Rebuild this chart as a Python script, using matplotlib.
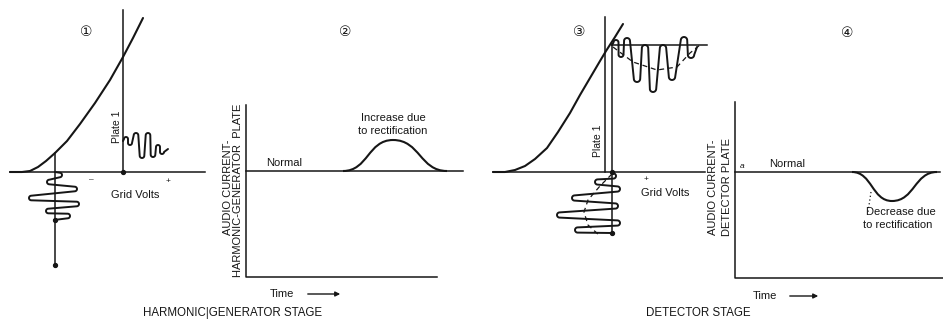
import matplotlib
matplotlib.use("Agg")
import numpy as np
import matplotlib.pyplot as plt
from matplotlib.path import Path
from matplotlib.patches import PathPatch

# ---------------- data (diagram units = reference pixels, y downward) ----------------
# Panel 1: harmonic-generator tube characteristic
p1_curve_x = [10, 22, 30, 38, 46, 55, 67, 80, 95, 110, 123, 133, 143]
p1_curve_y = [172, 172, 171, 167, 161, 153, 141, 124, 103, 80, 57, 38, 18]
# grid signal: start, turning points, end
p1_grid_x = [55, 62, 47, 77, 29, 79, 46, 70, 54]
p1_grid_y = [172, 175, 182, 189, 198, 204, 211, 216, 220]
# plate current wave: start, turning points, end
p1_plate_x = [123, 126, 130, 136, 142, 148, 153, 158, 162, 168]
p1_plate_y = [141, 137, 145, 133, 158, 133, 157, 145, 154, 149]

# Panel 2: audio current in harmonic-generator plate (start, peak, end)
p2_bump_x = [343, 393, 447]
p2_bump_y = [171, 140, 171]

# Panel 3: detector tube characteristic
p3_curve_x = [493, 505, 515, 525, 535, 547, 558, 570, 580, 590, 600, 606, 615, 623]
p3_curve_y = [172, 172, 170, 166, 159, 148, 132, 113, 95, 78, 61, 51, 37, 24]
p3_grid_x = [612, 616, 595, 620, 572, 618, 557, 620, 575, 612]
p3_grid_y = [173, 176, 182, 189, 198, 206, 215, 223, 230, 233]
p3_grid_env_x = [612, 600, 588, 584, 588, 600]
p3_grid_env_y = [174, 186, 200, 212, 225, 236]
p3_plate_x = [612, 616, 621, 627, 637, 645, 653, 663, 672, 684, 691, 697]
p3_plate_y = [45, 40, 57, 38, 82, 45, 92, 45, 80, 37, 58, 47]
p3_plate_env_x = [613, 633, 657, 677, 690, 700]
p3_plate_env_y = [47, 62, 70, 67, 53, 45]

# Panel 4: audio current in detector plate (start, minimum, end)
p4_dip_x = [852, 892, 937]
p4_dip_y = [172, 201, 172]

panel_numbers = ["\u2460", "\u2461", "\u2462", "\u2463"]
stage_labels = ["HARMONIC|GENERATOR STAGE", "DETECTOR STAGE"]

INK = "#161616"
SANS = ["Liberation Sans", "DejaVu Sans"]
FS = 8

fig = plt.figure(figsize=(9.43, 3.23), dpi=100)
ax = fig.add_axes([0, 0, 1, 1])
ax.set_xlim(0, 943)
ax.set_ylim(323, 0)
ax.axis("off")


def bell_path(xs, ys, t=0.5):
    verts = [(xs[0], ys[0])]
    codes = [Path.MOVETO]
    for i in range(len(xs) - 1):
        x0, y0, x1, y1 = xs[i], ys[i], xs[i + 1], ys[i + 1]
        dx = x1 - x0
        verts += [(x0 + t * dx, y0), (x1 - t * dx, y1), (x1, y1)]
        codes += [Path.CURVE4] * 3
    return Path(verts, codes)


def hairpin(xs, ys, orient, r):
    """Oscillation drawn through turning points with round hairpin ends."""
    px, py = [xs[0]], [ys[0]]
    n = len(xs)
    for i in range(1, n - 1):
        xe, ye = xs[i], ys[i]
        if orient == "h":
            gp = abs(ys[i] - ys[i - 1]) / (2 if i > 1 else 1)
            gn = abs(ys[i + 1] - ys[i]) / (2 if i < n - 2 else 1)
            ri = max(1.0, min(r, gp, gn))
            if xe > (xs[i - 1] + xs[i + 1]) / 2:      # right turn
                cx, cy = xe - ri, ye
                a = np.radians(np.linspace(-90, 90, 13))
            else:                                       # left turn
                cx, cy = xe + ri, ye
                a = np.radians(np.linspace(-90, -270, 13))
        else:
            gp = abs(xs[i] - xs[i - 1]) / (2 if i > 1 else 1)
            gn = abs(xs[i + 1] - xs[i]) / (2 if i < n - 2 else 1)
            ri = max(1.0, min(r, gp, gn))
            if ye < (ys[i - 1] + ys[i + 1]) / 2:      # peak (upward)
                cx, cy = xe, ye + ri
                a = np.radians(np.linspace(180, 360, 13))
            else:                                       # trough
                cx, cy = xe, ye - ri
                a = np.radians(np.linspace(180, 0, 13))
        px += list(cx + ri * np.cos(a))
        py += list(cy + ri * np.sin(a))
    px.append(xs[-1])
    py.append(ys[-1])
    return px, py


def draw_hairpin(xs, ys, orient, r, lw=1.4):
    hx, hy = hairpin(xs, ys, orient, r)
    ax.plot(hx, hy, color=INK, lw=lw, solid_capstyle="round", solid_joinstyle="round")


LW_AX = 1.1
LW_C = 1.5

# ---------------- Panel 1 ----------------
ax.plot([10, 205], [172, 172], color=INK, lw=LW_AX)
ax.plot([123, 123], [10, 172], color=INK, lw=LW_AX)
ax.plot(p1_curve_x, p1_curve_y, color=INK, lw=LW_C, solid_capstyle="round")
ax.plot([55, 55], [153, 265], color=INK, lw=LW_AX)
draw_hairpin(p1_grid_x, p1_grid_y, "h", 2.3)
draw_hairpin(p1_plate_x, p1_plate_y, "v", 2.3)
ax.plot([123, 55, 55], [172, 220, 265], "o", color=INK, ms=2.8)
ax.text(91, 180, "\u2013", ha="center", va="center", fontsize=6, color=INK, family=SANS)
ax.text(168, 182, "+", ha="center", va="center", fontsize=6, color=INK, family=SANS)
ax.text(135, 195, "Grid Volts", ha="center", va="center", fontsize=FS, color=INK, family=SANS)
ax.text(117, 127, "Plate 1", ha="center", va="center", rotation=90, fontsize=7.5,
        color=INK, family=SANS)

# ---------------- Panel 2 ----------------
ax.plot([246, 246, 437], [105, 277, 277], color=INK, lw=LW_AX)
ax.plot([246, 463], [171, 171], color=INK, lw=LW_AX)
ax.add_patch(PathPatch(bell_path(p2_bump_x, p2_bump_y), fill=False, edgecolor=INK, lw=LW_C))
ax.text(266, 163, "Normal", ha="left", va="center", fontsize=FS, color=INK, family=SANS)
ax.text(393, 118, "Increase due", ha="center", va="center", fontsize=FS, color=INK, family=SANS)
ax.text(393, 131, "to rectification", ha="center", va="center", fontsize=FS, color=INK,
        family=SANS)
ax.text(228, 187, "AUDIO CURRENT-", ha="center", va="center", rotation=90, fontsize=FS,
        color=INK, family=SANS)
ax.text(238, 190, "HARMONIC-GENERATOR  PLATE", ha="center", va="center", rotation=90,
        fontsize=FS, color=INK, family=SANS)
ax.text(270, 294, "Time", ha="left", va="center", fontsize=FS, color=INK, family=SANS)
ax.annotate("", xy=(343, 294), xytext=(305, 294),
            arrowprops=dict(arrowstyle="-|>", color=INK, lw=1.0, mutation_scale=7))

# ---------------- Panel 3 ----------------
ax.plot([493, 705], [172, 172], color=INK, lw=LW_AX)
ax.plot([605, 605], [17, 172], color=INK, lw=LW_AX)
ax.plot(p3_curve_x, p3_curve_y, color=INK, lw=LW_C, solid_capstyle="round")
ax.plot([612, 612], [45, 233], color=INK, lw=LW_AX)
ax.plot([612, 707], [45, 45], color=INK, lw=LW_AX)
draw_hairpin(p3_grid_x, p3_grid_y, "h", 2.6)
draw_hairpin(p3_plate_x, p3_plate_y, "v", 3.2)
ax.plot(p3_grid_env_x, p3_grid_env_y, color=INK, lw=0.9, ls=(0, (4, 3)))
ax.plot(p3_plate_env_x, p3_plate_env_y, color=INK, lw=0.9, ls=(0, (4, 3)))
ax.plot([612, 612], [172, 233], "o", color=INK, ms=2.8)
ax.text(646, 180, "+", ha="center", va="center", fontsize=6, color=INK, family=SANS)
ax.text(665, 193, "Grid Volts", ha="center", va="center", fontsize=FS, color=INK, family=SANS)
ax.text(598, 141, "Plate 1", ha="center", va="center", rotation=90, fontsize=7.5,
        color=INK, family=SANS)

# ---------------- Panel 4 ----------------
ax.plot([735, 735, 943], [102, 278, 278], color=INK, lw=LW_AX)
ax.plot([735, 940], [172, 172], color=INK, lw=LW_AX)
ax.add_patch(PathPatch(bell_path(p4_dip_x, p4_dip_y), fill=False, edgecolor=INK, lw=LW_C))
ax.plot([871, 868], [192, 212], color=INK, lw=0.9, ls=(0, (1, 2)))
ax.text(742, 166, "a", ha="center", va="center", fontsize=6, style="italic", color=INK,
        family=SANS)
ax.text(769, 164, "Normal", ha="left", va="center", fontsize=FS, color=INK, family=SANS)
ax.text(866, 212, "Decrease due", ha="left", va="center", fontsize=FS, color=INK, family=SANS)
ax.text(863, 225, "to rectification", ha="left", va="center", fontsize=FS, color=INK,
        family=SANS)
ax.text(713, 187, "AUDIO CURRENT-", ha="center", va="center", rotation=90, fontsize=FS,
        color=INK, family=SANS)
ax.text(727, 187, "DETECTOR PLATE", ha="center", va="center", rotation=90, fontsize=FS,
        color=INK, family=SANS)
ax.text(753, 296, "Time", ha="left", va="center", fontsize=FS, color=INK, family=SANS)
ax.annotate("", xy=(821, 296), xytext=(787, 296),
            arrowprops=dict(arrowstyle="-|>", color=INK, lw=1.0, mutation_scale=7))

# ---------------- panel numbers and stage labels ----------------
for (x, y), s in zip([(86, 32), (345, 32), (579, 32), (847, 33)], panel_numbers):
    ax.text(x, y, s, ha="center", va="center", fontsize=10, color=INK,
            family=["DejaVu Sans", "Noto Sans CJK JP"])
ax.text(143, 313, stage_labels[0], ha="left", va="center", fontsize=8.3, color=INK, family=SANS)
ax.text(646, 313, stage_labels[1], ha="left", va="center", fontsize=8.3, color=INK, family=SANS)

fig.savefig("out.png", dpi=100, facecolor="white")
